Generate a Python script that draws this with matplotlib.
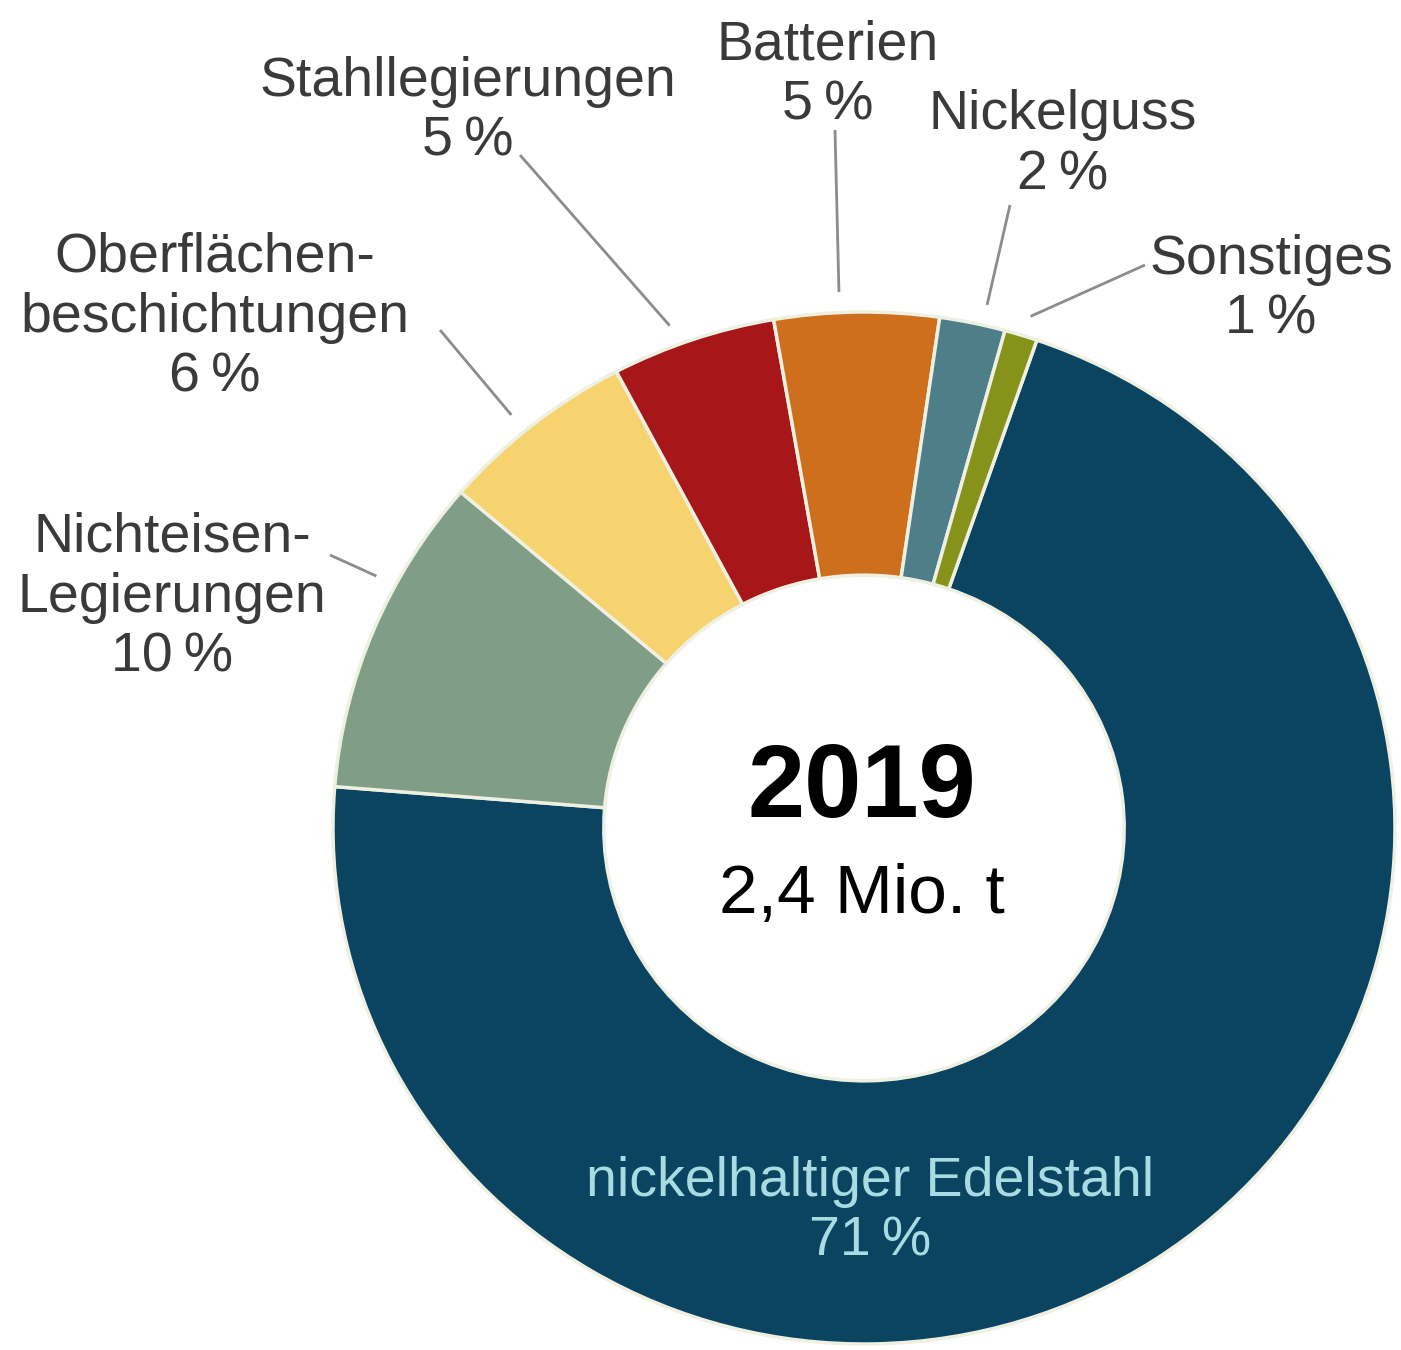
import matplotlib.pyplot as plt
import numpy as np

# Daten
categories = ["nickelhaltiger Edelstahl", "Nichteisen-\nLegierungen", "Oberflächen-\nbeschichtungen",
              "Stahllegierungen", "Batterien", "Nickelguss", "Sonstiges"]
shares = [71, 10, 6, 5, 5, 2, 1]
colors = ["#0a4460", "#809d86", "#f6d36f", "#a71619", "#cd6f1d", "#4e7f89", "#87921b"]
year_label = "2019"
total_label = "2,4 Mio. t"

# Layout in Pixeln
W, H = 1401, 1350
CX, CY, RX, RY = 864, 828, 531, 516


def px(x, y):
    return (x - CX) / RX, (CY - y) / RY


label_pos = {1: (172, 598), 2: (215, 318), 3: (468, 112), 4: (828, 75), 5: (1063, 145), 6: (1271, 290)}
line_end = {1: (330, 555), 2: (440, 330), 3: (520, 155), 4: (835, 130), 5: (1010, 205), 6: (1145, 265)}
# wo die Linie am Segment ansetzt (Anteil des Winkelbereichs)
anchor = {1: 0.35, 2: 0.55, 3: 0.6, 4: 0.6, 5: 0.35, 6: 0.4}

plt.rcParams['font.family'] = ['Liberation Sans', 'DejaVu Sans']

fig = plt.figure(figsize=(W / 100, H / 100), dpi=100)
ax = fig.add_axes([0, 0, 1, 1])

wedges, _ = ax.pie(shares, colors=colors, startangle=71, counterclock=False,
                   radius=1, wedgeprops=dict(width=0.51, edgecolor="#eef0e2", linewidth=2.5))

ax.set_aspect('auto')
x0, y0 = px(0, H)
x1, y1 = px(W, 0)
ax.set_xlim(x0, x1)
ax.set_ylim(y0, y1)
ax.axis('off')

# Beschriftungen aussen mit Linien
for i, w in enumerate(wedges):
    if i == 0:
        continue
    t1, t2 = sorted([w.theta1, w.theta2])
    ang = np.deg2rad(t1 + anchor[i] * (t2 - t1))
    sx, sy = 1.04 * np.cos(ang), 1.04 * np.sin(ang)
    ex, ey = px(*line_end[i])
    ax.plot([sx, ex], [sy, ey], color="#8c8c8c", lw=2, solid_capstyle='butt')
    tx, ty = px(*label_pos[i])
    ax.text(tx, ty, f"{categories[i]}\n{shares[i]}\u2009%", ha='center', va='center',
            fontsize=40, color="#3a3a3a", linespacing=1.2)

# Edelstahl im Ring
tx, ty = px(870, 1212)
ax.text(tx, ty, f"{categories[0]}\n{shares[0]}\u2009%", ha='center', va='center',
        fontsize=40, color="#a9dbe3", linespacing=1.2)

# Mitte
tx, ty = px(862, 790)
ax.text(tx, ty, year_label, ha='center', va='center', fontsize=74, fontweight='bold', color="black")
tx, ty = px(862, 895)
ax.text(tx, ty, total_label, ha='center', va='center', fontsize=50, color="black")

fig.savefig("out.png", dpi=100)
